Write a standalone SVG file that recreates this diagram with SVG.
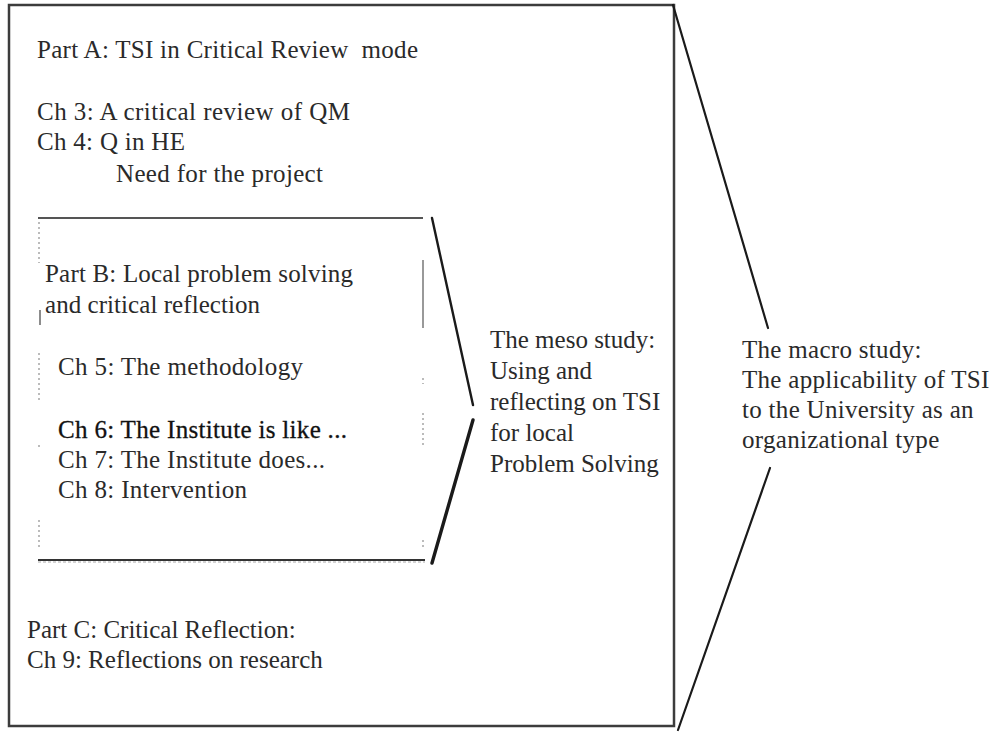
<svg xmlns="http://www.w3.org/2000/svg" width="997" height="732" viewBox="0 0 997 732">
  <style>
    .t { font-family: "Liberation Serif", "Times New Roman", serif; font-size: 25px; fill: #2a2a2a; white-space: pre; }
    .dark { fill: #111; stroke: #111; stroke-width: 0.3px; }
    .wide { letter-spacing: 0.3px; }
    .frame { fill: none; stroke: #3c3c3c; stroke-width: 2.5; }
    .edge { fill: none; stroke: #555; stroke-width: 2; }
    .faint { fill: none; stroke: #a5a5a5; stroke-width: 1.5; stroke-dasharray: 2 3; }
    .link { fill: none; stroke: #1a1a1a; stroke-linecap: round; }
  </style>

  <rect width="997" height="732" fill="#fff"/>

  <!-- Outer frame: the whole thesis -->
  <g id="thesis">
    <rect class="frame" x="9" y="5" width="665" height="721"/>
    <text class="t" x="37" y="58" textLength="381" lengthAdjust="spacing" xml:space="preserve">Part A: TSI in Critical Review  mode</text>
    <text class="t" x="37" y="120" textLength="313" lengthAdjust="spacing">Ch 3: A critical review of QM</text>
    <text class="t" x="37" y="150" textLength="148" lengthAdjust="spacing">Ch 4: Q in HE</text>
    <text class="t" x="116" y="182" textLength="207" lengthAdjust="spacing">Need for the project</text>
    <text class="t" x="27" y="638">Part C: Critical Reflection:</text>
    <text class="t" x="27" y="668">Ch 9: Reflections on research</text>
  </g>

  <!-- Inner frame: Part B -->
  <g id="part-b">
    <line class="edge" x1="38" y1="218" x2="423" y2="218"/>
    <line x1="38" y1="560" x2="425" y2="560" stroke="#333" stroke-width="2.2"/>
    <line x1="38" y1="562" x2="425" y2="562" stroke="#aaa" stroke-width="1" stroke-dasharray="3 2"/>
    <!-- broken side edges -->
    <line class="faint" x1="39" y1="222" x2="39" y2="263"/>
    <line x1="40" y1="310" x2="40" y2="325" stroke="#666" stroke-width="1.5"/>
    <line class="faint" x1="39" y1="353" x2="39" y2="400"/>
    <line class="faint" x1="39" y1="445" x2="39" y2="449"/>
    <line class="faint" x1="39" y1="520" x2="39" y2="547"/>
    <line x1="423" y1="260" x2="423" y2="328" stroke="#777" stroke-width="1.5"/>
    <line class="faint" x1="423" y1="378" x2="423" y2="384"/>
    <line class="faint" x1="423" y1="413" x2="423" y2="448"/>
    <line class="faint" x1="423" y1="540" x2="423" y2="547"/>
    <text class="t" x="45" y="282" textLength="308" lengthAdjust="spacing">Part B: Local problem solving</text>
    <text class="t" x="45" y="313" textLength="215" lengthAdjust="spacing">and critical reflection</text>
    <text class="t" x="58" y="375" textLength="245" lengthAdjust="spacing">Ch 5: The methodology</text>
    <text class="t dark" x="58" y="438" textLength="289" lengthAdjust="spacing">Ch 6: The Institute is like ...</text>
    <text class="t" x="58" y="468" textLength="267" lengthAdjust="spacing">Ch 7: The Institute does...</text>
    <text class="t" x="58" y="498" textLength="189" lengthAdjust="spacing">Ch 8: Intervention</text>
  </g>

  <!-- Meso study label -->
  <g id="meso">
    <text class="t" x="490" y="348">The meso study:</text>
    <text class="t" x="490" y="379">Using and</text>
    <text class="t" x="490" y="410">reflecting on TSI</text>
    <text class="t" x="490" y="441">for local</text>
    <text class="t" x="490" y="472">Problem Solving</text>
  </g>

  <!-- Macro study label -->
  <g id="macro">
    <text class="t wide" x="742" y="358">The macro study:</text>
    <text class="t wide" x="742" y="388">The applicability of TSI</text>
    <text class="t wide" x="742" y="418">to the University as an</text>
    <text class="t wide" x="742" y="448">organizational type</text>
  </g>

  <!-- Bracket connectors -->
  <g id="connectors">
    <line class="link" x1="432" y1="218" x2="473" y2="405" stroke-width="2.4"/>
    <line class="link" x1="473" y1="420" x2="432" y2="563" stroke-width="3.4"/>
    <line class="link" x1="673" y1="5" x2="768" y2="328" stroke-width="2.2"/>
    <line class="link" x1="770" y1="468" x2="678" y2="730" stroke-width="2.2"/>
  </g>
</svg>
